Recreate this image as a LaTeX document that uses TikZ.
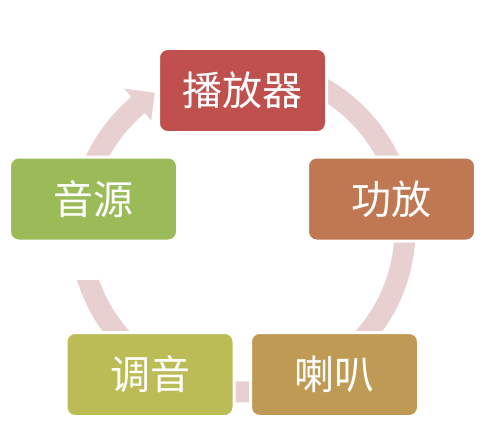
\documentclass[tikz,border=0pt]{standalone}
\usepackage{fontspec}
\newfontfamily\cjk{Noto Sans CJK SC}
\definecolor{ringcol}{HTML}{E8D0D1}
\definecolor{cA}{HTML}{C0504D}
\definecolor{cB}{HTML}{BF7851}
\definecolor{cC}{HTML}{BE9A54}
\definecolor{cD}{HTML}{BCBC57}
\definecolor{cE}{HTML}{9BBB59}
\begin{document}
\begin{tikzpicture}[x=1pt,y=-1pt,
  cyclebox/.style={draw=white, line width=3pt, rounded corners=9pt,
    minimum width=168pt, minimum height=84pt, inner sep=0pt,
    text=white, font=\cjk\fontsize{40}{46}\selectfont},
  ringfill/.style={fill=ringcol}]
\useasboundingbox (0,0) rectangle (492,441);
\def\CX{242.5}\def\CY{229.5}\def\RingIn{152}\def\RingOut{173}
% arc: player -> amp
\fill[ringfill] plot[domain=-75:-15,samples=40] ({\CX+\RingOut*cos(\x)},{\CY+\RingOut*sin(\x)})
  -- plot[domain=-15:-75,samples=40] ({\CX+\RingIn*cos(\x)},{\CY+\RingIn*sin(\x)}) -- cycle;
% arc: amp -> speaker
\fill[ringfill] plot[domain=0:50,samples=40] ({\CX+\RingOut*cos(\x)},{\CY+\RingOut*sin(\x)})
  -- plot[domain=50:0,samples=40] ({\CX+\RingIn*cos(\x)},{\CY+\RingIn*sin(\x)}) -- cycle;
% arc: speaker -> mixer
\fill[ringfill] plot[domain=75:105,samples=30] ({\CX+\RingOut*cos(\x)},{\CY+\RingOut*sin(\x)})
  -- plot[domain=105:75,samples=30] ({\CX+\RingIn*cos(\x)},{\CY+\RingIn*sin(\x)}) -- cycle;
% arc: mixer -> source (flat cut)
\fill[ringfill] plot[domain=130:163,samples=40] ({\CX+\RingOut*cos(\x)},{\CY+\RingOut*sin(\x)})
  -- plot[domain=160.6:130,samples=40] ({\CX+\RingIn*cos(\x)},{\CY+\RingIn*sin(\x)}) -- cycle;
% arc: source -> player with arrowhead
\fill[ringfill] plot[domain=-165:-130,samples=40] ({\CX+\RingOut*cos(\x)},{\CY+\RingOut*sin(\x)})
  -- ({\CX+184*cos(-130)},{\CY+184*sin(-130)})
  -- ({\CX+162.5*cos(-122.7)},{\CY+162.5*sin(-122.7)})
  -- ({\CX+142*cos(-130)},{\CY+142*sin(-130)})
  -- plot[domain=-130:-165,samples=40] ({\CX+\RingIn*cos(\x)},{\CY+\RingIn*sin(\x)}) -- cycle;
% nodes
\node[cyclebox, fill=cA] (player) at (242.5,90.5) {播放器};
\node[cyclebox, fill=cB] (amp) at (391.5,199) {功放};
\node[cyclebox, fill=cC] (speaker) at (334.5,374.5) {喇叭};
\node[cyclebox, fill=cD] (mixer) at (150,374.5) {调音};
\node[cyclebox, fill=cE] (source) at (93.5,199) {音源};
\end{tikzpicture}
\end{document}
